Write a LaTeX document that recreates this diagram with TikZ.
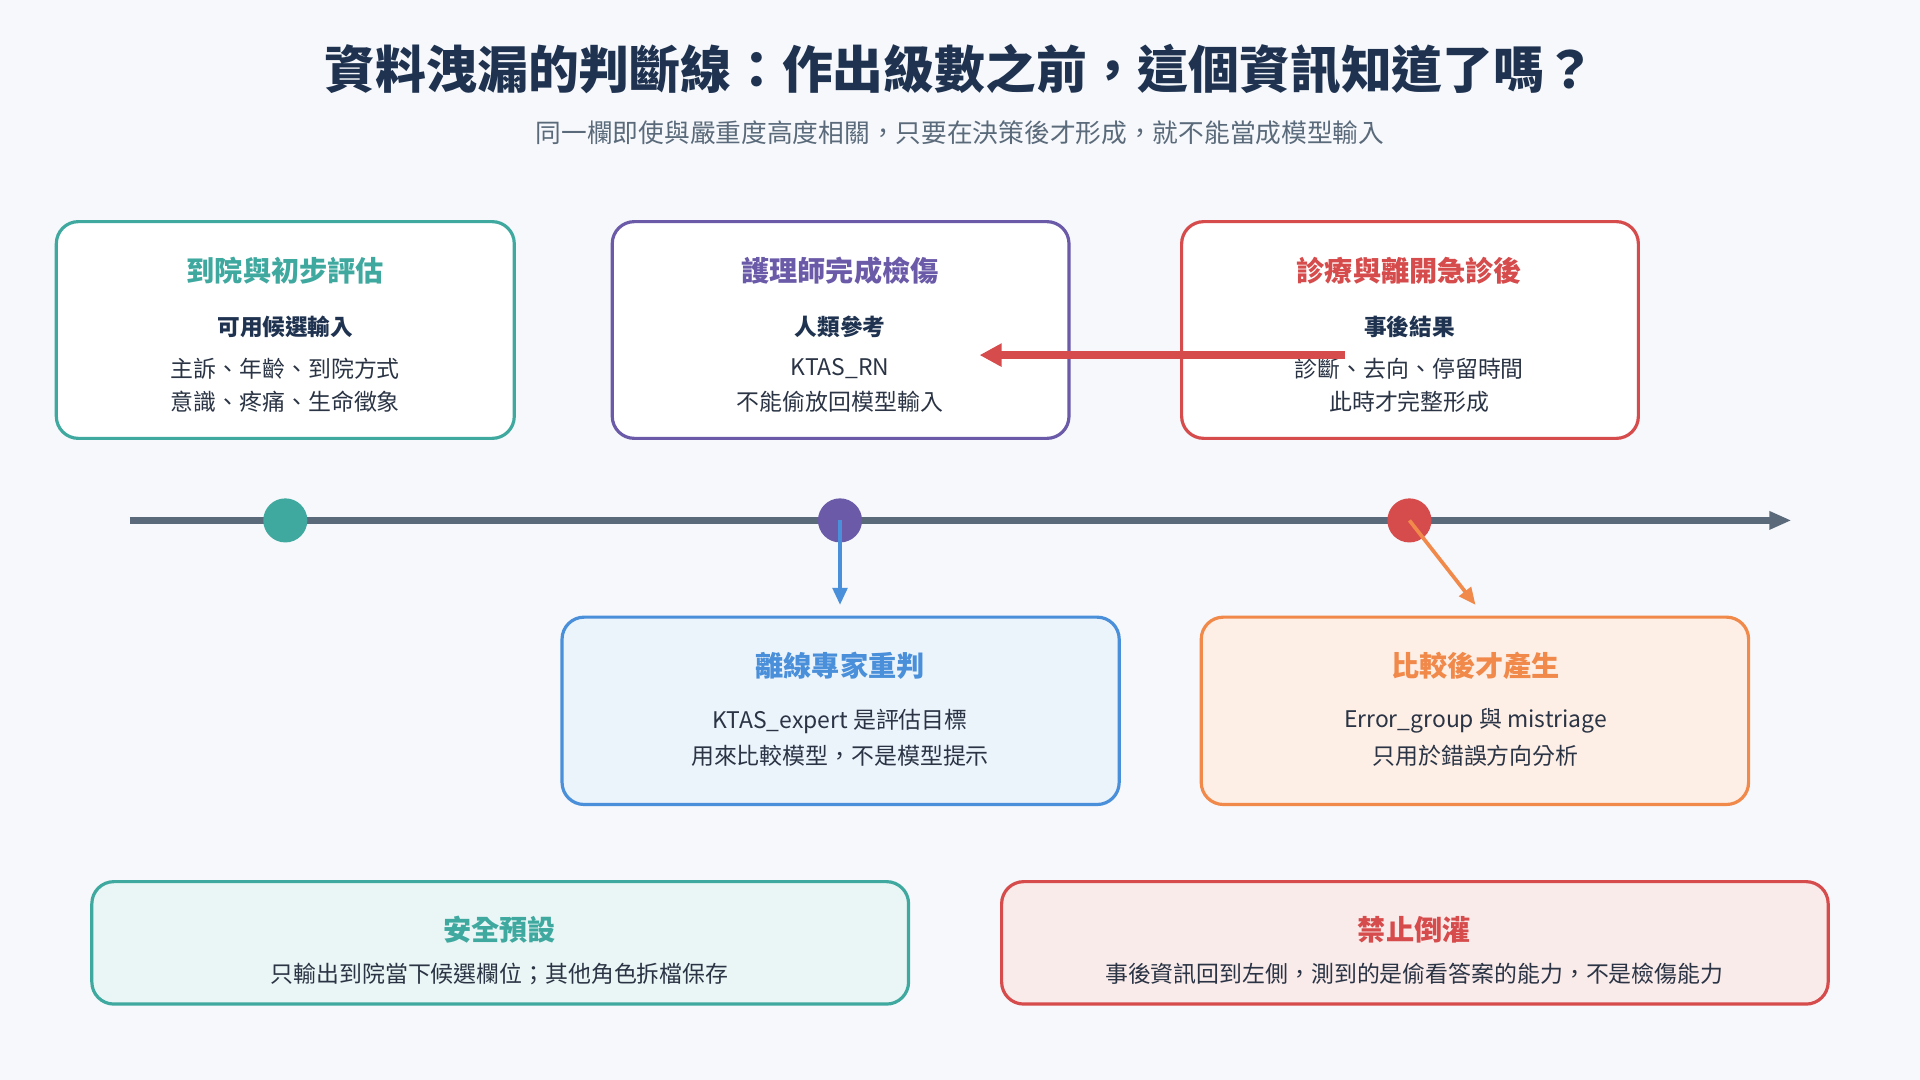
\documentclass[tikz,border=0pt]{standalone}
\usepackage{fontspec}
\setmainfont{Noto Sans CJK TC}
\usetikzlibrary{arrows.meta}
\definecolor{bgc}{HTML}{F6F8FB}
\definecolor{tealc}{HTML}{3FA9A0}
\definecolor{purc}{HTML}{6A5AA8}
\definecolor{redc}{HTML}{D64B4B}
\definecolor{bluec}{HTML}{4A8FD9}
\definecolor{orac}{HTML}{F0894A}
\definecolor{navy}{HTML}{1F3350}
\definecolor{greyc}{HTML}{5A6A7A}
\definecolor{txtc}{HTML}{2A3444}
\tikzset{
  box/.style={draw=#1, line width=2.6pt, rounded corners=18pt},
  head/.style={font=\fontsize{23}{26}\selectfont\bfseries, text=#1},
  sub/.style={font=\fontsize{18.5}{21}\selectfont\bfseries, text=navy},
  line/.style={font=\fontsize{18.7}{21}\selectfont, text=txtc},
  dot/.style={circle, fill=#1, minimum size=36pt, inner sep=0pt},
}
\begin{document}
\begin{tikzpicture}[x=1pt,y=-1pt]
    \fill[bgc] (0,0) rectangle (1568,882);
    \useasboundingbox (0,0) rectangle (1568,882);
    % title
    \node[font=\fontsize{41.5}{46}\selectfont\bfseries, text=navy] (title) at (784,57) {資料洩漏的判斷線：作出級數之前，這個資訊知道了嗎？};
    \node[font=\fontsize{21}{24}\selectfont, text=greyc] (subtitle) at (784,108) {同一欄即使與嚴重度高度相關，只要在決策後才形成，就不能當成模型輸入};
    % upper boxes
    \draw[box=tealc, fill=white] (46,181) rectangle (420,358);
    \node[head=tealc] (arrive) at (233,221) {到院與初步評估};
    \node[sub] (arrivesub) at (233,267) {可用候選輸入};
    \node[line] (arrivea) at (233,301) {主訴、年齡、到院方式};
    \node[line] (arriveb) at (233,328) {意識、疼痛、生命徵象};
    \draw[box=purc, fill=white] (500,181) rectangle (873,358);
    \node[head=purc] (nurse) at (686,221) {護理師完成檢傷};
    \node[sub] (nursesub) at (686,267) {人類參考};
    \node[line] (nursea) at (686,301) {KTAS\_RN};
    \node[line] (nurseb) at (686,328) {不能偷放回模型輸入};
    \draw[box=redc, fill=white] (965,181) rectangle (1338,358);
    \node[head=redc] (leave) at (1151,221) {診療與離開急診後};
    \node[sub] (leavesub) at (1151,267) {事後結果};
    \node[line] (leavea) at (1151,301) {診斷、去向、停留時間};
    \node[line] (leaveb) at (1151,328) {此時才完整形成};
    % leak arrow
    \coordinate (leakfrom) at (1098,290);
    \coordinate (leakto) at (800,290);
    \draw[redc, line width=6pt, -{Triangle[length=18pt,width=18pt]}] (leakfrom) -- (leakto);
    % timeline
    \coordinate (tstart) at (106,425);
    \coordinate (tend) at (1463,425);
    \draw[greyc, line width=6pt, -{Triangle[length=18pt,width=14pt]}] (tstart) -- (tend);
    \node[dot=tealc] (d1) at (233,425) {};
    \node[dot=purc] (d2) at (686,425) {};
    \node[dot=redc] (d3) at (1151,425) {};
    % lower boxes
    \draw[box=bluec, fill=bluec!11] (459,504) rectangle (914,657);
    \node[head=bluec] (expert) at (686,544) {離線專家重判};
    \node[line] (experta) at (686,589) {KTAS\_expert 是評估目標};
    \node[line] (expertb) at (686,617) {用來比較模型，不是模型提示};
    \draw[box=orac, fill=orac!14] (981,504) rectangle (1428,657);
    \node[head=orac] (compare) at (1205,544) {比較後才產生};
    \node[line] (comparea) at (1205,589) {Error\_group 與 mistriage};
    \node[line] (compareb) at (1205,617) {只用於錯誤方向分析};
    \coordinate (bluetop) at (686,494);
    \coordinate (oratop) at (1205,494);
    \draw[bluec, line width=3pt, -{Triangle[length=14pt,width=12pt]}] (d2.center) -- (bluetop);
    \draw[orac, line width=3pt, -{Triangle[length=14pt,width=12pt]}] (d3.center) -- (oratop);
    % bottom notes
    \draw[box=tealc, fill=tealc!11] (75,720) rectangle (742,820);
    \node[head=tealc] (safe) at (408,759) {安全預設};
    \node[line] (safea) at (408,795) {只輸出到院當下候選欄位；其他角色拆檔保存};
    \draw[box=redc, fill=redc!11] (818,720) rectangle (1493,820);
    \node[head=redc] (ban) at (1155,759) {禁止倒灌};
    \node[line] (bana) at (1155,795) {事後資訊回到左側，測到的是偷看答案的能力，不是檢傷能力};
\end{tikzpicture}
\end{document}
